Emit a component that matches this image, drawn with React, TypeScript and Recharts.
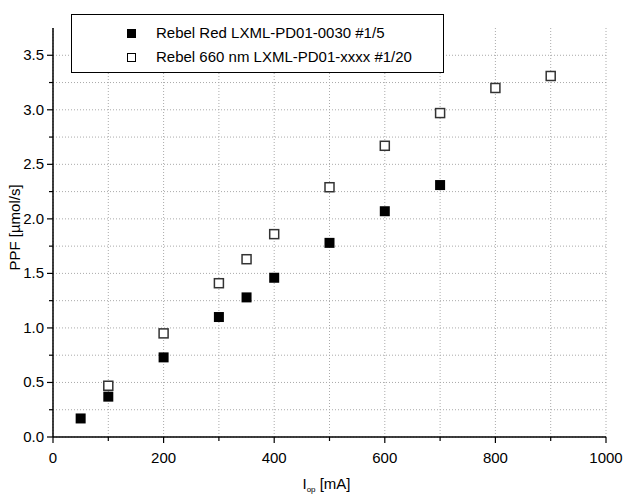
import React from "react";
import {
  ScatterChart,
  Scatter,
  XAxis,
  YAxis,
  CartesianGrid
} from "recharts";

const redCurrent = [50, 100, 200, 300, 350, 400, 500, 600, 700];
const redPPF = [0.17, 0.37, 0.73, 1.1, 1.28, 1.46, 1.78, 2.07, 2.31];

const deepRedCurrent = [100, 200, 300, 350, 400, 500, 600, 700, 800, 900];
const deepRedPPF = [0.47, 0.95, 1.41, 1.63, 1.86, 2.29, 2.67, 2.97, 3.2, 3.31];

const seriesNames = [
  "Rebel Red LXML-PD01-0030 #1/5",
  "Rebel 660 nm LXML-PD01-xxxx #1/20"
];

const xTicks = [0, 100, 200, 300, 400, 500, 600, 700, 800, 900, 1000];
const yTicks = [
  0, 0.25, 0.5, 0.75, 1, 1.25, 1.5, 1.75, 2, 2.25, 2.5, 2.75, 3, 3.25, 3.5
];
const xDomain = [0, 1000];
const yDomain = [0, 3.75];

const redData = redCurrent.map((x, i) => ({ x, y: redPPF[i] }));
const deepRedData = deepRedCurrent.map((x, i) => ({ x, y: deepRedPPF[i] }));

const FONT = "'Liberation Sans', Arial, sans-serif";

// map a value through the axis scale handed to the grid generators
const scaleOf = (axis: any) => {
  const sc = axis && axis.scale;
  if (typeof sc === "function") return sc;
  if (sc && typeof sc.map === "function") return (v: number) => sc.map(v);
  return null;
};

// bottom axis: outward ticks, labels every 200
const BottomTick = (p: any) => {
  const v = p.payload.value;
  const major = v % 200 === 0;
  return (
    <g>
      <line x1={p.x} x2={p.x} y1={p.y} y2={p.y + (major ? 6 : 4)} stroke="#000" strokeWidth={1.2} />
      {major && (
        <text x={p.x} y={p.y + 26} textAnchor="middle" fontSize={15} fontFamily={FONT} fill="#000">
          {v}
        </text>
      )}
    </g>
  );
};

// top axis: inward ticks only
const TopTick = (p: any) => {
  const v = p.payload.value;
  const major = v % 200 === 0;
  return <line x1={p.x} x2={p.x} y1={p.y} y2={p.y + (major ? 6 : 4)} stroke="#000" strokeWidth={1.2} />;
};

const LeftTick = (p: any) => {
  const v = p.payload.value;
  const major = Math.abs(v * 2 - Math.round(v * 2)) < 1e-6;
  return (
    <g>
      <line x1={p.x} x2={p.x - (major ? 6 : 4)} y1={p.y} y2={p.y} stroke="#000" strokeWidth={1.2} />
      {major && (
        <text x={p.x - 9} y={p.y + 5} textAnchor="end" fontSize={15} fontFamily={FONT} fill="#000">
          {v.toFixed(1)}
        </text>
      )}
    </g>
  );
};

const RightTick = (p: any) => {
  const v = p.payload.value;
  const major = Math.abs(v * 2 - Math.round(v * 2)) < 1e-6;
  return <line x1={p.x} x2={p.x - (major ? 6 : 4)} y1={p.y} y2={p.y} stroke="#000" strokeWidth={1.2} />;
};

const FilledSquare = (p: any) => (
  <rect x={p.cx - 5} y={p.cy - 5} width={10} height={10} fill="#000" />
);

const OpenSquare = (p: any) => (
  <rect x={p.cx - 4.5} y={p.cy - 4.5} width={9} height={9} fill="#fff" stroke="#333" strokeWidth={1.5} />
);

const LegendBox = () => (
  <div
    style={{
      position: "absolute",
      left: 71,
      top: 14,
      width: 373,
      height: 59,
      border: "1px solid #000",
      background: "#fff",
      fontFamily: FONT,
      fontSize: 15,
      boxSizing: "border-box"
    }}
  >
    {seriesNames.map((name, i) => (
      <div
        key={name}
        style={{ position: "absolute", left: 55, top: 9 + i * 24, display: "flex", alignItems: "center", lineHeight: "18px" }}
      >
        <span
          style={{
            display: "inline-block",
            width: 9,
            height: 9,
            boxSizing: "border-box",
            background: i === 0 ? "#000" : "#fff",
            border: i === 0 ? "none" : "1.2px solid #000",
            marginRight: 20
          }}
        />
        <span>{name}</span>
      </div>
    ))}
  </div>
);

export default function App() {
  return (
    <div style={{ position: "absolute", left: 0, top: 0, width: 628, height: 497, background: "#fff" }}>
      <ScatterChart width={628} height={497} margin={{ top: 28, right: 22, bottom: 0, left: 0 }}>
        <CartesianGrid
          stroke="#aaaaaa"
          strokeDasharray="1 2"
          verticalCoordinatesGenerator={(props: any) => {
            const f = scaleOf(props.xAxis);
            if (f) return xTicks.map((t) => f(t));
            const o = props.offset;
            return xTicks.map((t) => o.left + ((t - xDomain[0]) / (xDomain[1] - xDomain[0])) * o.width);
          }}
          horizontalCoordinatesGenerator={(props: any) => {
            const f = scaleOf(props.yAxis);
            if (f) return yTicks.map((t) => f(t));
            const o = props.offset;
            return yTicks.map((t) => o.top + o.height - ((t - yDomain[0]) / (yDomain[1] - yDomain[0])) * o.height);
          }}
        />
        <XAxis
          dataKey="x"
          type="number"
          domain={xDomain}
          ticks={xTicks}
          height={60}
          tickSize={0}
          tickMargin={0}
          tickLine={false}
          tick={<BottomTick />}
          axisLine={{ stroke: "#000", strokeWidth: 1.5 }}
          interval={0}
          label={{
            content: (props: any) => {
              const vb = props.viewBox;
              return (
                <text x={vb.x + vb.width / 2 - 3} y={vb.y + 52} textAnchor="middle" fontSize={15} fontFamily={FONT} fill="#000">
                  I<tspan fontSize={8} dy={3}>op</tspan>
                  <tspan dy={-3}> [mA]</tspan>
                </text>
              );
            }
          }}
        />
        <XAxis
          xAxisId="top"
          orientation="top"
          type="number"
          domain={xDomain}
          ticks={xTicks}
          height={0}
          tickSize={0}
          tickMargin={0}
          tickLine={false}
          tick={<TopTick />}
          axisLine={{ stroke: "#000", strokeWidth: 1.5 }}
          interval={0}
        />
        <YAxis
          dataKey="y"
          type="number"
          domain={yDomain}
          ticks={yTicks}
          width={53}
          tickSize={0}
          tickMargin={0}
          tickLine={false}
          tick={<LeftTick />}
          axisLine={{ stroke: "#000", strokeWidth: 1.5 }}
          interval={0}
          label={{
            content: (props: any) => {
              const vb = props.viewBox;
              const cx = 20;
              const cy = vb.y + vb.height / 2 - 5;
              return (
                <text x={cx} y={cy} transform={`rotate(-90 ${cx} ${cy})`} textAnchor="middle" fontSize={15} fontFamily={FONT} fill="#000">
                  PPF [µmol/s]
                </text>
              );
            }
          }}
        />
        <YAxis
          yAxisId="right"
          orientation="right"
          type="number"
          domain={yDomain}
          ticks={yTicks}
          width={0}
          tickSize={0}
          tickMargin={0}
          tickLine={false}
          tick={<RightTick />}
          axisLine={{ stroke: "#000", strokeWidth: 1.5 }}
          interval={0}
        />
        <Scatter name={seriesNames[0]} data={redData} shape={<FilledSquare />} isAnimationActive={false} />
        <Scatter name={seriesNames[1]} data={deepRedData} shape={<OpenSquare />} isAnimationActive={false} />
      </ScatterChart>
      <LegendBox />
    </div>
  );
}
